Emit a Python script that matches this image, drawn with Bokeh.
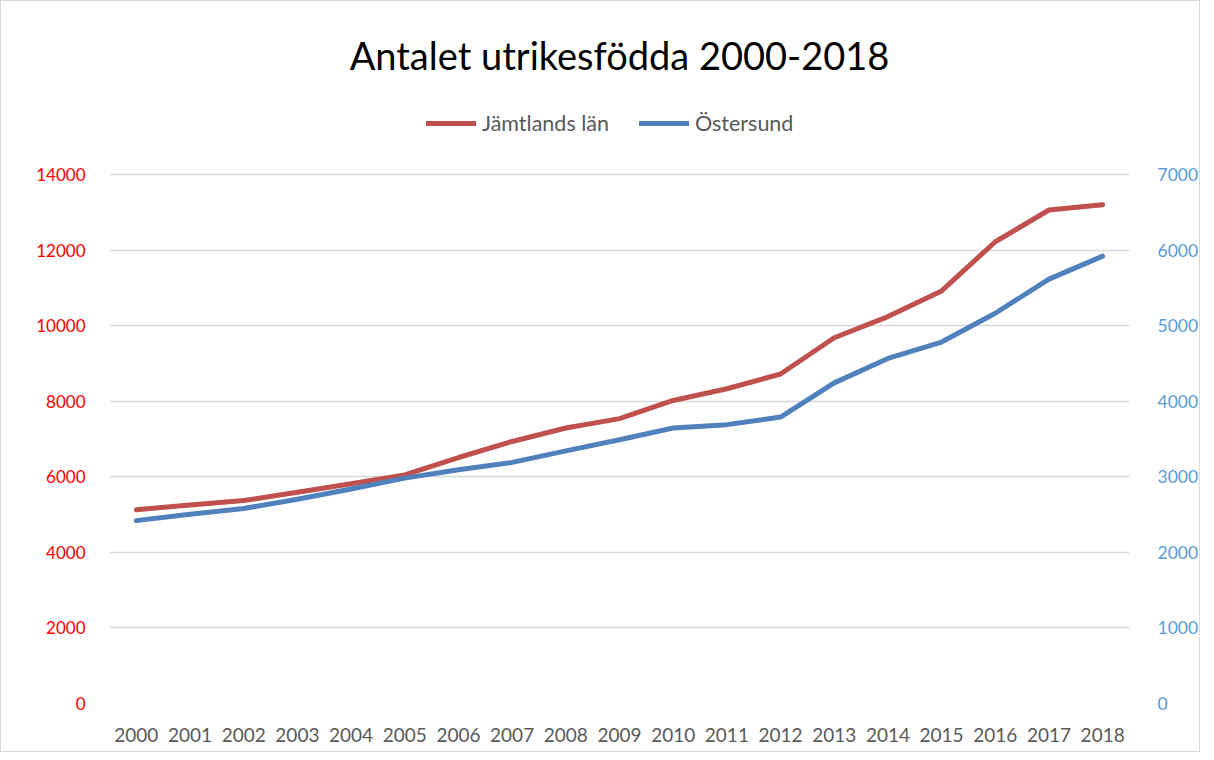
from bokeh.plotting import figure
from bokeh.models import (Range1d, LinearAxis, FixedTicker, Legend, LegendItem, Title)
from bokeh.embed import file_html
from bokeh.resources import INLINE

years = [str(y) for y in range(2000, 2019)]
jamtland = [5130, 5255, 5370, 5590, 5815, 6050, 6510, 6935, 7290, 7540,
            8020, 8330, 8720, 9680, 10240, 10920, 12220, 13060, 13200]
ostersund = [2420, 2503, 2580, 2703, 2838, 2982, 3093, 3190, 3343, 3490,
             3645, 3690, 3790, 4243, 4566, 4783, 5164, 5615, 5920]
left_ticks = [0, 2000, 4000, 6000, 8000, 10000, 12000, 14000]
right_ticks = [0, 1000, 2000, 3000, 4000, 5000, 6000, 7000]

FONT = "Lato"
# frame extends above the top tick so the legend can sit inside it
LEFT_TOP = 15932
RIGHT_TOP = LEFT_TOP / 2

p = figure(x_range=years, y_range=Range1d(0, LEFT_TOP), width=1200, height=752,
           output_backend="svg", toolbar_location=None,
           min_border_left=108, min_border_right=72, min_border_bottom=50,
           min_border_top=100)
p.extra_y_ranges = {"right": Range1d(0, RIGHT_TOP)}
p.styles = {"border": "1px solid #D9D9D9"}

p.title = Title(text="Antalet utrikesfödda 2000-2018", align="center",
                text_font=FONT, text_font_size="38px", text_font_style="normal",
                text_color="#000000", standoff=47)

r1 = p.line(years, jamtland, line_color="#C0504D", line_width=5, line_cap="round",
            line_join="round")
r2 = p.line(years, ostersund, line_color="#4F81BD", line_width=5, line_cap="round",
            line_join="round", y_range_name="right")

p.outline_line_color = None
p.background_fill_color = "white"
p.border_fill_color = "white"

# left axis
ya = p.yaxis[0]
ya.ticker = FixedTicker(ticks=left_ticks)
ya.major_label_text_color = "#FF0000"
ya.major_label_text_font = FONT
ya.major_label_text_font_size = "17px"
ya.axis_line_color = None
ya.major_tick_line_color = None
ya.minor_tick_line_color = None
ya.major_label_standoff = 18

ra = LinearAxis(y_range_name="right", ticker=FixedTicker(ticks=right_ticks))
ra.major_label_text_color = "#5B9BD5"
ra.major_label_text_font = FONT
ra.major_label_text_font_size = "17.5px"
ra.axis_line_color = None
ra.major_tick_line_color = None
ra.minor_tick_line_color = None
ra.major_label_standoff = 22
p.add_layout(ra, "right")

xa = p.xaxis[0]
xa.major_label_text_color = "#595959"
xa.major_label_text_font = FONT
xa.major_label_text_font_size = "19px"
xa.axis_line_color = None
xa.major_tick_line_color = None
xa.minor_tick_line_color = None
xa.major_label_standoff = 18

p.xgrid.grid_line_color = None
p.ygrid.grid_line_color = "#D9D9D9"
p.ygrid.grid_line_width = 1.5
p.ygrid.ticker = FixedTicker(ticks=left_ticks)

legend = Legend(items=[LegendItem(label="Jämtlands län", renderers=[r1]),
                       LegendItem(label="Östersund", renderers=[r2])],
                orientation="horizontal", location=(317, 567),
                label_text_font=FONT, label_text_font_size="21.5px",
                label_text_color="#595959", glyph_width=50, label_standoff=6,
                spacing=30, border_line_color=None, background_fill_alpha=0,
                padding=0, margin=0)
p.add_layout(legend, "center")

open("out.html", "w").write(file_html(p, INLINE))
